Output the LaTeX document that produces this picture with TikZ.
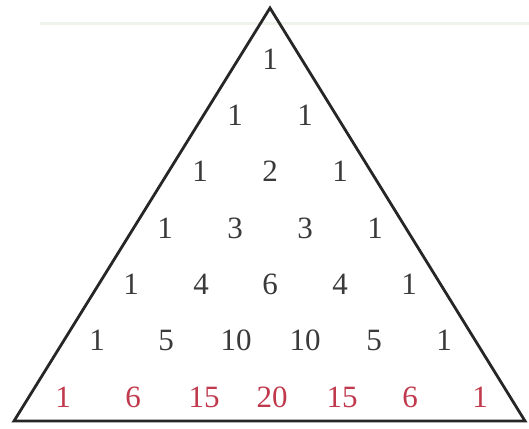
\documentclass[tikz,border=0pt]{standalone}
\usepackage{fontspec}
\setmainfont{Liberation Serif}
\definecolor{numgray}{HTML}{3A3A3A}
\definecolor{numred}{HTML}{C0394C}
\definecolor{faintgreen}{HTML}{EEF4EA}
\begin{document}
\begin{tikzpicture}[x=1pt,y=-1pt,
  num/.style={font=\fontsize{31}{33}\selectfont, text=numgray, inner sep=0pt, anchor=base},
  rednum/.style={num, text=numred},
  tri/.style={draw=black!85, line width=2.8pt, line join=miter}]
\useasboundingbox (0,0) rectangle (529,428);
\draw[faintgreen, line width=3pt] (40,24) coordinate (g1) -- (529,24) coordinate (g2);
\coordinate (A) at (270,8);
\coordinate (B) at (14,421);
\coordinate (C) at (525,421);
\draw[tri] (A) -- (B) -- (C) -- cycle;
% rows
\node[num] (r0c0) at (270,69) {1};
\node[num] (r1c0) at (235,125) {1};
\node[num] (r1c1) at (305,125) {1};
\node[num] (r2c0) at (200,181) {1};
\node[num] (r2c1) at (270,181) {2};
\node[num] (r2c2) at (340,181) {1};
\node[num] (r3c0) at (165,238) {1};
\node[num] (r3c1) at (235,238) {3};
\node[num] (r3c2) at (305,238) {3};
\node[num] (r3c3) at (375,238) {1};
\node[num] (r4c0) at (131,294) {1};
\node[num] (r4c1) at (201,294) {4};
\node[num] (r4c2) at (270,294) {6};
\node[num] (r4c3) at (340,294) {4};
\node[num] (r4c4) at (409,294) {1};
\node[num] (r5c0) at (97,350) {1};
\node[num] (r5c1) at (166,350) {5};
\node[num] (r5c2) at (236,350) {10};
\node[num] (r5c3) at (305,350) {10};
\node[num] (r5c4) at (374,350) {5};
\node[num] (r5c5) at (444,350) {1};
\node[rednum] (r6c0) at (63,407) {1};
\node[rednum] (r6c1) at (133,407) {6};
\node[rednum] (r6c2) at (204,407) {15};
\node[rednum] (r6c3) at (272,407) {20};
\node[rednum] (r6c4) at (342,407) {15};
\node[rednum] (r6c5) at (410,407) {6};
\node[rednum] (r6c6) at (480,407) {1};
\end{tikzpicture}
\end{document}
